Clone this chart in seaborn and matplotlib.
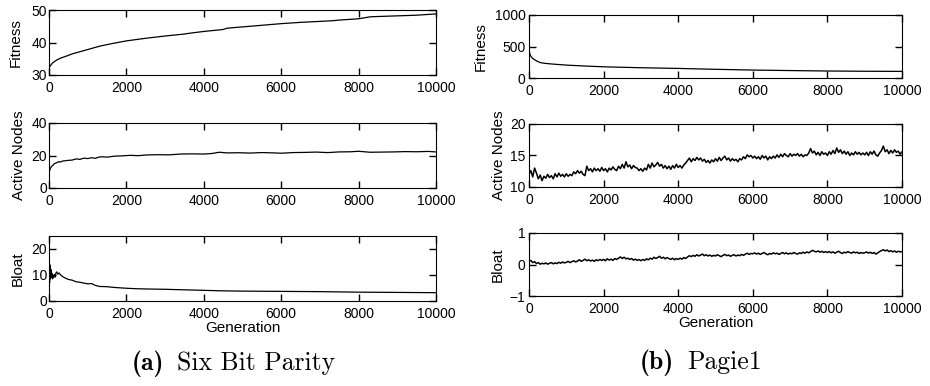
import numpy as np
import pandas as pd
import matplotlib
matplotlib.use("Agg")
import matplotlib.pyplot as plt
import seaborn as sns

# ---------------- data: (a) Six Bit Parity ----------------
a_fit_gen = [0, 20, 50, 100, 200, 300, 470, 600, 900, 1200, 1320, 1600, 2000, 2500, 3000,
             3500, 3600, 4000, 4500, 4600, 5000, 5500, 6000, 6500, 7000, 7330, 7500, 8000,
             8300, 8500, 9000, 9500, 10000]
a_fit_val = [32.0, 32.6, 33.1, 33.8, 34.6, 35.2, 35.9, 36.5, 37.5, 38.5, 38.9, 39.6, 40.5,
             41.3, 42.0, 42.6, 42.8, 43.4, 44.0, 44.4, 44.8, 45.3, 45.8, 46.2, 46.5, 46.7,
             46.9, 47.3, 47.9, 48.0, 48.2, 48.4, 48.8]

a_nodes_gen = [0, 10, 20, 40, 60, 80, 100, 130, 160, 200, 250, 300, 350, 400, 450, 500, 600,
               700, 800, 900, 1000, 1100, 1200, 1300, 1400, 1500, 1700, 1900, 2100, 2300, 2500,
               2800, 3100, 3400, 3700, 4000, 4200, 4400, 4600, 4900, 5200, 5500, 5800, 6000,
               6300, 6600, 6900, 7200, 7500, 7800, 8000, 8300, 8600, 8900, 9200, 9500, 9800,
               10000]
a_nodes_val = [9.0, 10.2, 11.0, 12.3, 13.1, 13.6, 14.0, 14.8, 15.2, 15.6, 16.2, 16.0, 16.6,
               16.7, 16.9, 17.0, 17.2, 17.9, 17.6, 18.4, 18.1, 18.6, 18.3, 19.1, 19.2, 19.0,
               19.6, 19.8, 20.1, 19.9, 20.3, 20.5, 20.4, 20.9, 21.0, 20.9, 21.2, 22.0, 21.6,
               21.7, 21.5, 21.8, 21.6, 21.4, 21.8, 21.9, 22.1, 21.8, 22.2, 22.3, 22.6, 22.0,
               22.1, 22.2, 22.4, 22.3, 22.5, 22.2]

a_bloat_gen = [0, 5, 10, 15, 20, 25, 30, 35, 40, 50, 60, 70, 80, 90, 100, 120, 140, 160, 180,
               200, 230, 260, 300, 350, 400, 450, 500, 600, 700, 800, 900, 1000, 1100, 1200,
               1300, 1500, 1700, 2000, 2300, 2600, 3000, 3500, 4000, 4500, 5000, 6000, 7000,
               8000, 9000, 10000]
a_bloat_val = [5.5, 9.0, 12.5, 7.0, 14.0, 10.0, 13.5, 8.5, 11.5, 9.0, 12.0, 9.5, 10.5, 8.5,
               9.5, 9.0, 10.2, 9.2, 10.8, 11.2, 10.3, 10.8, 10.0, 9.4, 9.0, 8.6, 8.3, 8.0, 7.4,
               7.2, 6.9, 6.6, 6.7, 6.0, 5.6, 5.5, 5.2, 4.9, 4.7, 4.6, 4.5, 4.3, 4.1, 3.9, 3.8,
               3.7, 3.6, 3.4, 3.3, 3.2]

# ---------------- data: (b) Pagie1 ----------------
b_fit_gen = [0, 5, 10, 20, 30, 50, 75, 100, 150, 200, 250, 300, 400, 500, 700, 1000, 1500,
             2000, 2500, 3000, 4000, 5000, 6000, 7000, 8000, 9000, 10000]
b_fit_val = [720, 520, 430, 390, 370, 345, 325, 310, 290, 272, 258, 245, 235, 228, 218, 205,
             190, 178, 170, 163, 152, 138, 126, 118, 111, 107, 105]

# sampled every 50 generations, 0..10000
b_nodes_val = [
    12.0, 12.6, 11.6, 13.0, 12.2, 11.3, 11.9, 11.0, 11.7, 11.4, 12.0, 11.5, 11.8, 11.3, 12.1, 11.6, 12.2, 11.7, 12.0, 11.6,
    12.1, 11.7, 12.0, 11.8, 12.4, 12.1, 12.6, 12.2, 12.5, 12.0, 11.8, 13.3, 12.6, 12.9, 12.4, 13.0, 12.6, 12.9, 12.5, 13.1,
    12.6, 12.9, 12.4, 13.0, 12.7, 13.2, 12.8, 12.6, 13.3, 12.9, 13.6, 13.0, 14.0, 13.2, 13.5, 12.9, 13.4, 13.1, 13.0, 12.6,
    12.9, 12.5, 13.0, 12.7, 13.6, 13.0, 13.8, 13.2, 13.5, 13.9, 13.3, 13.6, 13.0, 13.4, 12.9, 13.3, 12.8, 13.4, 13.0, 13.6,
    13.1, 13.4, 13.0, 13.5, 13.8, 14.2, 14.6, 14.0, 14.5, 14.2, 14.7, 14.3, 14.6, 14.1, 14.4, 13.9, 14.2, 13.8, 14.3, 14.0,
    14.5, 14.1, 14.7, 14.2, 14.6, 14.9, 14.3, 14.6, 14.1, 14.5, 14.2, 14.4, 14.0, 14.5, 14.3, 14.8, 14.5, 15.1, 14.8, 15.0,
    14.6, 14.9, 14.5, 14.8, 14.4, 15.0, 14.6, 14.9, 14.3, 14.8, 14.5, 14.9, 14.6, 15.1, 14.7, 15.2, 14.8, 15.3, 15.0, 14.8,
    15.3, 14.9, 15.2, 15.0, 15.3, 14.9, 15.2, 14.8, 15.1, 15.0, 15.4, 16.1, 15.4, 15.7, 15.1, 15.5, 15.0, 15.6, 15.2, 15.4,
    15.0, 15.6, 15.2, 15.8, 15.3, 16.2, 15.5, 15.9, 15.3, 15.7, 15.2, 15.6, 15.0, 15.4, 15.1, 15.6, 15.2, 15.5, 15.1, 15.4,
    15.1, 15.5, 15.0, 15.6, 15.2, 15.7, 15.1, 14.9, 15.4, 15.8, 16.5, 15.6, 15.9, 15.3, 15.8, 15.4, 15.9, 15.5, 15.7, 15.2,
    15.6]

b_bloat_val = [
    0.10, 0.13, 0.06, 0.09, 0.03, 0.06, 0.01, 0.04, 0.02, 0.05, 0.01, 0.04, 0.06, 0.02, 0.05, 0.03, 0.07, 0.04, 0.08, 0.05,
    0.07, 0.10, 0.06, 0.09, 0.12, 0.08, 0.11, 0.15, 0.10, 0.13, 0.17, 0.12, 0.15, 0.11, 0.14, 0.10, 0.15, 0.12, 0.16, 0.13,
    0.16, 0.12, 0.18, 0.14, 0.17, 0.13, 0.19, 0.16, 0.20, 0.24, 0.19, 0.23, 0.18, 0.20, 0.16, 0.19, 0.14, 0.17, 0.13, 0.16,
    0.12, 0.16, 0.13, 0.18, 0.15, 0.20, 0.17, 0.23, 0.19, 0.22, 0.26, 0.20, 0.23, 0.18, 0.22, 0.19, 0.16, 0.20, 0.15, 0.19,
    0.16, 0.20, 0.17, 0.22, 0.19, 0.24, 0.28, 0.25, 0.29, 0.26, 0.31, 0.27, 0.30, 0.33, 0.28, 0.31, 0.27, 0.30, 0.26, 0.29,
    0.27, 0.31, 0.28, 0.25, 0.29, 0.32, 0.28, 0.30, 0.26, 0.29, 0.31, 0.27, 0.30, 0.28, 0.32, 0.29, 0.33, 0.36, 0.32, 0.35,
    0.34, 0.37, 0.33, 0.36, 0.32, 0.35, 0.38, 0.34, 0.31, 0.35, 0.33, 0.37, 0.34, 0.36, 0.32, 0.35, 0.38, 0.34, 0.37, 0.33,
    0.36, 0.34, 0.38, 0.35, 0.33, 0.37, 0.35, 0.39, 0.36, 0.40, 0.37, 0.41, 0.45, 0.42, 0.40, 0.43, 0.39, 0.42, 0.38, 0.41,
    0.38, 0.41, 0.37, 0.40, 0.36, 0.39, 0.42, 0.38, 0.35, 0.39, 0.37, 0.41, 0.38, 0.36, 0.40, 0.37, 0.39, 0.35, 0.38, 0.36,
    0.37, 0.40, 0.36, 0.39, 0.35, 0.38, 0.33, 0.37, 0.41, 0.44, 0.47, 0.43, 0.46, 0.41, 0.44, 0.40, 0.43, 0.39, 0.42, 0.40,
    0.41]
b_sample_step = 50

x_ticks = [0, 2000, 4000, 6000, 8000, 10000]
a_yticks = {"Fitness": [30, 40, 50], "Active Nodes": [0, 20, 40], "Bloat": [0, 10, 20]}
a_ylims = {"Fitness": (30, 50), "Active Nodes": (0, 40), "Bloat": (0, 25)}
b_yticks = {"Fitness": [0, 500, 1000], "Active Nodes": [10, 15, 20], "Bloat": [-1, 0, 1]}
b_ylims = {"Fitness": (0, 1000), "Active Nodes": (10, 20), "Bloat": (-1, 1)}

# ---------------- style ----------------
sns.set_theme(style="ticks")
plt.rcParams['font.family'] = ['Liberation Sans', 'DejaVu Sans']
plt.rcParams['text.color'] = 'black'
plt.rcParams['axes.labelcolor'] = 'black'
plt.rcParams['xtick.color'] = 'black'
plt.rcParams['ytick.color'] = 'black'
plt.rcParams['xtick.direction'] = 'in'
plt.rcParams['ytick.direction'] = 'in'
plt.rcParams['xtick.top'] = True
plt.rcParams['ytick.right'] = True
plt.rcParams['xtick.major.size'] = 5
plt.rcParams['ytick.major.size'] = 5
plt.rcParams['xtick.major.width'] = 1.0
plt.rcParams['ytick.major.width'] = 1.0
plt.rcParams['axes.unicode_minus'] = True

W, H = 930, 386
fig = plt.figure(figsize=(W / 100, H / 100), dpi=100)
fig.patch.set_facecolor('white')


def add_ax(left, top, width, height):
    return fig.add_axes([left / W, 1 - (top + height) / H, width / W, height / H])


def draw(ax, x, y, name, ylim, yticks, lw, ypad, label_x, xlabel=False):
    n = min(len(x), len(y))
    df = pd.DataFrame({"gen": list(x)[:n], "val": list(y)[:n]})
    sns.lineplot(data=df, x="gen", y="val", ax=ax, color="black", linewidth=lw,
                 estimator=None, legend=False, zorder=2)
    ax.set_xlim(0, 10000)
    ax.set_ylim(*ylim)
    ax.set_xticks(x_ticks)
    ax.set_xticklabels([str(t) for t in x_ticks])
    ax.set_yticks(yticks)
    ax.set_yticklabels([str(t).replace('-', '\u2212') for t in yticks])
    ax.minorticks_off()
    ax.tick_params(axis='both', which='major', direction='in', length=5, width=1.0,
                   bottom=True, left=True, top=True, right=True,
                   labelbottom=True, labelleft=True, labeltop=False, labelright=False,
                   labelsize=10, color='black', labelcolor='black')
    ax.tick_params(axis='x', pad=4)
    ax.tick_params(axis='y', pad=ypad)
    for s in ax.spines.values():
        s.set_visible(True)
        s.set_color('black')
        s.set_linewidth(0.8)
    ax.set_axisbelow(False)
    ax.set_facecolor('white')
    ax.set_ylabel(name, fontsize=11)
    ax.yaxis.set_label_coords(label_x, 0.5)
    if xlabel:
        ax.set_xlabel("Generation", fontsize=11, labelpad=0.5)
    else:
        ax.set_xlabel("")


names = ["Fitness", "Active Nodes", "Bloat"]

# column (a)
a_tops = [10, 123, 236]
a_series = [(a_fit_gen, a_fit_val), (a_nodes_gen, a_nodes_val), (a_bloat_gen, a_bloat_val)]
a_label_x = [-0.067, -0.059, -0.062]
for i, name in enumerate(names):
    ax = add_ax(49, a_tops[i], 387, 65)
    gx, gy = a_series[i]
    draw(ax, gx, gy, name, a_ylims[name], a_yticks[name], 0.9, 1.5, a_label_x[i],
         xlabel=(i == 2))

# column (b)
b_gen_dense = [b_sample_step * k for k in range(len(b_nodes_val))]
b_tops = [15, 124, 233]
b_series = [(b_fit_gen, b_fit_val), (b_gen_dense, b_nodes_val), (b_gen_dense, b_bloat_val)]
b_label_x = [-0.110, -0.062, -0.064]
b_lw = [0.9, 1.1, 1.1]
for i, name in enumerate(names):
    ax = add_ax(529, b_tops[i], 373, 63)
    gx, gy = b_series[i]
    draw(ax, gx, gy, name, b_ylims[name], b_yticks[name], b_lw[i], 2.5, b_label_x[i],
         xlabel=(i == 2))

# captions
cap_size = 18.5
fig.text(132 / W, 1 - 370 / H, "(a)", fontfamily="cmb10", fontsize=cap_size,
         ha="left", va="baseline")
fig.text(177 / W, 1 - 370 / H, "Six Bit Parity", fontfamily="cmr10", fontsize=cap_size,
         ha="left", va="baseline")
fig.text(640 / W, 1 - 369 / H, "(b)", fontfamily="cmb10", fontsize=cap_size,
         ha="left", va="baseline")
fig.text(687 / W, 1 - 369 / H, "Pagie1", fontfamily="cmr10", fontsize=cap_size,
         ha="left", va="baseline")

fig.savefig("out.png", dpi=100, facecolor="white")
